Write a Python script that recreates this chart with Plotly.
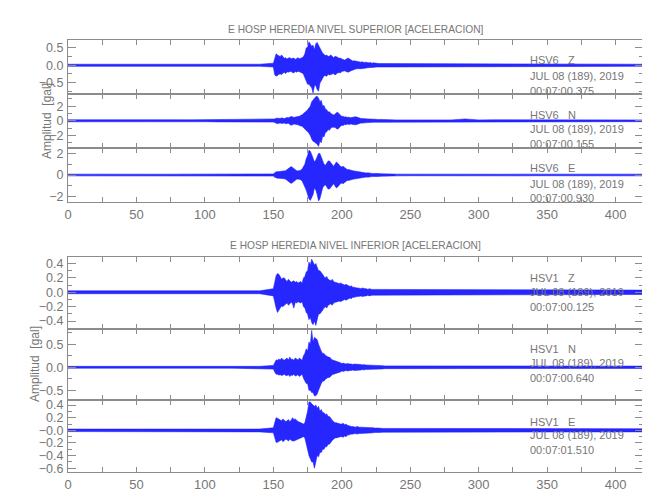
import plotly.graph_objects as go

# ---- time grid (seconds) ----
T_PRE = list(range(0, 150, 10))     # 15 samples (pre-event noise)
T_EVT = list(range(150, 240, 1))    # 90 samples (strong motion)
T_POST = list(range(240, 421, 10))  # 19 samples (coda / noise)
TIME = T_PRE + T_EVT + T_POST

# ===== HSV6 (nivel superior): upper / lower envelopes =====
z6_up = ([0.03,0.03,0.025,0.035,0.03,0.03,0.035,0.03,0.03,0.03,0.025,0.03,0.035,0.03,0.03] +
         [0.06,0.22,0.33,0.30,0.27,0.25,0.30,0.24,0.20,0.22,
          0.18,0.21,0.22,0.19,0.20,0.21,0.17,0.20,0.22,0.19,
          0.20,0.22,0.25,0.33,0.50,0.52,0.68,0.60,0.55,0.58,
          0.45,0.62,0.66,0.58,0.50,0.42,0.35,0.32,0.28,0.30,
          0.25,0.27,0.30,0.26,0.22,0.26,0.25,0.23,0.20,0.21,
          0.18,0.17,0.15,0.17,0.20,0.20,0.17,0.15,0.12,0.13,
          0.12,0.11,0.11,0.10,0.09,0.10,0.08,0.09,0.08,0.07,
          0.07,0.08,0.06,0.07,0.06,0.05,0.06,0.05,0.05,0.05,
          0.04,0.05,0.04,0.04,0.04,0.04,0.035,0.04,0.035,0.035] +
         [0.03,0.035,0.03,0.03,0.035,0.03,0.03,0.03,0.035,0.03,0.03,0.03,0.035,0.03,0.03,0.03,0.035,0.03,0.03])
z6_lo = ([-0.03,-0.03,-0.035,-0.03,-0.03,-0.025,-0.03,-0.03,-0.035,-0.03,-0.03,-0.03,-0.03,-0.035,-0.03] +
         [-0.05,-0.28,-0.31,-0.30,-0.26,-0.25,-0.27,-0.22,-0.21,-0.24,
          -0.19,-0.20,-0.18,-0.18,-0.21,-0.22,-0.18,-0.20,-0.17,-0.18,
          -0.21,-0.22,-0.26,-0.35,-0.42,-0.55,-0.55,-0.62,-0.65,-0.80,
          -0.60,-0.58,-0.70,-0.75,-0.52,-0.45,-0.38,-0.30,-0.30,-0.32,
          -0.26,-0.28,-0.27,-0.25,-0.24,-0.28,-0.24,-0.22,-0.21,-0.22,
          -0.18,-0.16,-0.16,-0.18,-0.19,-0.20,-0.17,-0.15,-0.13,-0.13,
          -0.11,-0.10,-0.11,-0.10,-0.10,-0.10,-0.09,-0.09,-0.08,-0.07,
          -0.07,-0.08,-0.07,-0.07,-0.06,-0.05,-0.06,-0.05,-0.05,-0.05,
          -0.045,-0.05,-0.04,-0.04,-0.04,-0.04,-0.04,-0.04,-0.035,-0.035] +
         [-0.03,-0.03,-0.035,-0.03,-0.03,-0.03,-0.035,-0.03,-0.03,-0.03,-0.035,-0.03,-0.03,-0.03,-0.035,-0.03,-0.03,-0.03,-0.03])

n6_up = ([0.14,0.15,0.13,0.14,0.15,0.13,0.14,0.15,0.14,0.13,0.15,0.14,0.13,0.15,0.14] +
         [0.20,0.25,0.35,0.38,0.35,0.30,0.40,0.35,0.30,0.38,
          0.45,0.40,0.55,0.58,0.55,0.45,0.50,0.52,0.55,0.62,
          0.75,0.80,1.00,1.10,1.30,1.50,1.80,2.00,2.60,2.80,
          3.00,3.30,3.35,3.10,2.60,2.80,2.00,2.10,1.60,1.50,
          1.20,1.25,1.00,0.90,0.80,0.90,1.10,1.15,1.00,0.80,
          0.60,0.62,0.50,0.55,0.45,0.50,0.40,0.45,0.50,0.55,
          0.55,0.50,0.40,0.35,0.30,0.32,0.28,0.25,0.28,0.25,
          0.25,0.22,0.22,0.20,0.20,0.20,0.18,0.20,0.18,0.16,
          0.18,0.16,0.15,0.15,0.15,0.13,0.14,0.12,0.13,0.12] +
         [0.12,0.12,0.13,0.12,0.12,0.25,0.12,0.13,0.12,0.12,0.12,0.13,0.12,0.12,0.12,0.13,0.12,0.12,0.12])
n6_lo = ([-0.14,-0.13,-0.15,-0.14,-0.13,-0.15,-0.14,-0.13,-0.15,-0.14,-0.13,-0.15,-0.14,-0.13,-0.15] +
         [-0.18,-0.25,-0.32,-0.40,-0.35,-0.30,-0.38,-0.35,-0.32,-0.40,
          -0.42,-0.35,-0.52,-0.60,-0.55,-0.45,-0.48,-0.50,-0.55,-0.65,
          -0.70,-0.75,-0.95,-1.10,-1.25,-1.50,-1.70,-2.00,-2.50,-2.80,
          -2.90,-3.00,-3.20,-3.50,-2.80,-3.00,-2.10,-2.20,-1.60,-1.50,
          -1.20,-1.30,-1.00,-0.90,-0.85,-0.90,-1.05,-1.15,-0.95,-0.80,
          -0.60,-0.65,-0.52,-0.55,-0.45,-0.50,-0.42,-0.45,-0.50,-0.55,
          -0.55,-0.50,-0.42,-0.35,-0.30,-0.32,-0.28,-0.25,-0.28,-0.25,
          -0.24,-0.20,-0.22,-0.20,-0.20,-0.20,-0.18,-0.20,-0.18,-0.15,
          -0.17,-0.15,-0.15,-0.15,-0.14,-0.12,-0.14,-0.12,-0.13,-0.12] +
         [-0.12,-0.13,-0.12,-0.12,-0.12,-0.22,-0.12,-0.12,-0.13,-0.12,-0.12,-0.12,-0.13,-0.12,-0.12,-0.12,-0.13,-0.12,-0.12])

e6_up = ([0.08,0.07,0.08,0.08,0.07,0.08,0.08,0.07,0.08,0.08,0.07,0.08,0.08,0.07,0.08] +
         [0.10,0.20,0.30,0.30,0.32,0.30,0.30,0.32,0.35,0.40,
          0.50,0.60,0.75,0.78,0.70,0.60,0.45,0.40,0.38,0.40,
          0.45,0.55,0.80,1.00,1.50,1.80,2.30,2.20,1.90,1.60,
          1.20,1.40,1.80,2.00,2.00,1.60,1.20,1.00,0.90,1.10,
          1.30,1.30,1.10,0.90,0.80,1.00,1.20,1.10,0.90,0.80,
          0.75,0.80,0.70,0.60,0.50,0.50,0.45,0.40,0.40,0.38,
          0.35,0.32,0.35,0.30,0.28,0.25,0.22,0.20,0.18,0.20,
          0.16,0.15,0.15,0.14,0.15,0.13,0.12,0.14,0.12,0.11,
          0.12,0.10,0.11,0.10,0.10,0.09,0.10,0.09,0.09,0.08] +
         [0.08,0.08,0.07,0.08,0.08,0.07,0.08,0.08,0.07,0.08,0.08,0.07,0.08,0.08,0.07,0.08,0.08,0.07,0.08])
e6_lo = ([-0.08,-0.08,-0.07,-0.08,-0.08,-0.07,-0.08,-0.08,-0.07,-0.08,-0.08,-0.07,-0.08,-0.08,-0.07] +
         [-0.10,-0.20,-0.28,-0.30,-0.30,-0.30,-0.32,-0.32,-0.35,-0.40,
          -0.50,-0.60,-0.72,-0.78,-0.70,-0.60,-0.45,-0.40,-0.38,-0.40,
          -0.45,-0.55,-0.80,-1.00,-1.40,-1.80,-2.20,-2.35,-2.00,-1.80,
          -1.20,-1.40,-1.80,-2.40,-2.20,-1.60,-1.20,-1.00,-0.90,-1.10,
          -1.30,-1.30,-1.10,-0.90,-0.80,-1.00,-1.20,-1.10,-0.90,-0.80,
          -0.75,-0.80,-0.70,-0.60,-0.50,-0.50,-0.45,-0.40,-0.40,-0.38,
          -0.35,-0.32,-0.35,-0.30,-0.28,-0.25,-0.22,-0.20,-0.18,-0.20,
          -0.16,-0.15,-0.15,-0.14,-0.15,-0.13,-0.12,-0.14,-0.12,-0.11,
          -0.12,-0.10,-0.11,-0.10,-0.10,-0.09,-0.10,-0.09,-0.09,-0.08] +
         [-0.08,-0.07,-0.08,-0.08,-0.07,-0.08,-0.08,-0.07,-0.08,-0.08,-0.07,-0.08,-0.08,-0.07,-0.08,-0.08,-0.07,-0.08,-0.08])

# ===== HSV1 (nivel inferior) =====
z1_up = ([0.02,0.02,0.025,0.02,0.02,0.025,0.02,0.02,0.025,0.02,0.02,0.025,0.02,0.02,0.02] +
         [0.05,0.15,0.23,0.26,0.25,0.22,0.18,0.20,0.20,0.17,
          0.15,0.18,0.16,0.14,0.15,0.16,0.14,0.15,0.13,0.14,
          0.15,0.13,0.20,0.22,0.28,0.30,0.42,0.38,0.46,0.42,
          0.38,0.40,0.35,0.30,0.30,0.28,0.25,0.22,0.20,0.22,
          0.18,0.17,0.16,0.18,0.15,0.14,0.14,0.13,0.12,0.13,
          0.12,0.11,0.10,0.11,0.10,0.09,0.08,0.09,0.07,0.07,
          0.06,0.06,0.06,0.05,0.05,0.06,0.05,0.05,0.05,0.04,
          0.05,0.04,0.04,0.04,0.04,0.04,0.04,0.035,0.04,0.035,
          0.035,0.03,0.035,0.03,0.03,0.035,0.03,0.03,0.03,0.03] +
         [0.03,0.03,0.035,0.03,0.03,0.03,0.035,0.03,0.03,0.03,0.035,0.03,0.03,0.03,0.035,0.03,0.03,0.03,0.03])
z1_lo = ([-0.02,-0.025,-0.02,-0.02,-0.025,-0.02,-0.02,-0.025,-0.02,-0.02,-0.025,-0.02,-0.02,-0.025,-0.02] +
         [-0.05,-0.15,-0.22,-0.28,-0.24,-0.22,-0.19,-0.20,-0.18,-0.17,
          -0.15,-0.18,-0.16,-0.14,-0.16,-0.22,-0.14,-0.15,-0.13,-0.14,
          -0.15,-0.13,-0.20,-0.22,-0.28,-0.30,-0.38,-0.35,-0.42,-0.45,
          -0.40,-0.46,-0.35,-0.30,-0.30,-0.28,-0.25,-0.22,-0.20,-0.22,
          -0.18,-0.17,-0.16,-0.18,-0.15,-0.14,-0.14,-0.13,-0.12,-0.13,
          -0.12,-0.11,-0.10,-0.11,-0.10,-0.09,-0.08,-0.09,-0.07,-0.07,
          -0.06,-0.06,-0.06,-0.05,-0.05,-0.06,-0.05,-0.05,-0.05,-0.04,
          -0.05,-0.04,-0.04,-0.04,-0.04,-0.04,-0.04,-0.035,-0.04,-0.035,
          -0.035,-0.03,-0.035,-0.03,-0.03,-0.035,-0.03,-0.03,-0.03,-0.03] +
         [-0.03,-0.035,-0.03,-0.03,-0.03,-0.035,-0.03,-0.03,-0.03,-0.035,-0.03,-0.03,-0.03,-0.035,-0.03,-0.03,-0.03,-0.035,-0.03])

n1_up = ([0.02,0.02,0.025,0.02,0.02,0.02,0.025,0.02,0.02,0.02,0.025,0.02,0.02,0.02,0.02] +
         [0.04,0.10,0.16,0.15,0.18,0.16,0.20,0.17,0.15,0.18,
          0.20,0.16,0.22,0.17,0.18,0.15,0.20,0.18,0.16,0.20,
          0.18,0.15,0.25,0.30,0.40,0.35,0.55,0.50,0.80,0.55,
          0.65,0.62,0.60,0.50,0.40,0.35,0.30,0.30,0.26,0.24,
          0.22,0.22,0.18,0.16,0.15,0.14,0.14,0.12,0.12,0.10,
          0.08,0.09,0.08,0.07,0.08,0.07,0.07,0.07,0.06,0.07,
          0.07,0.06,0.06,0.06,0.06,0.05,0.06,0.05,0.05,0.05,
          0.04,0.05,0.04,0.04,0.04,0.04,0.04,0.035,0.035,0.04,
          0.035,0.03,0.035,0.03,0.03,0.03,0.03,0.03,0.03,0.025] +
         [0.025,0.025,0.02,0.025,0.025,0.02,0.025,0.025,0.02,0.025,0.025,0.02,0.025,0.025,0.02,0.025,0.025,0.02,0.025])
n1_lo = ([-0.02,-0.025,-0.02,-0.02,-0.02,-0.025,-0.02,-0.02,-0.02,-0.025,-0.02,-0.02,-0.02,-0.025,-0.02] +
         [-0.04,-0.10,-0.15,-0.15,-0.17,-0.16,-0.18,-0.17,-0.15,-0.18,
          -0.18,-0.16,-0.20,-0.17,-0.18,-0.15,-0.19,-0.18,-0.16,-0.20,
          -0.18,-0.15,-0.24,-0.30,-0.35,-0.35,-0.50,-0.50,-0.55,-0.55,
          -0.62,-0.62,-0.58,-0.50,-0.40,-0.35,-0.30,-0.30,-0.26,-0.24,
          -0.22,-0.22,-0.18,-0.16,-0.15,-0.14,-0.14,-0.12,-0.12,-0.10,
          -0.08,-0.09,-0.08,-0.07,-0.08,-0.07,-0.07,-0.07,-0.06,-0.07,
          -0.07,-0.06,-0.06,-0.06,-0.06,-0.05,-0.06,-0.05,-0.05,-0.05,
          -0.04,-0.05,-0.04,-0.04,-0.04,-0.04,-0.04,-0.035,-0.035,-0.04,
          -0.035,-0.03,-0.035,-0.03,-0.03,-0.03,-0.03,-0.03,-0.03,-0.025] +
         [-0.025,-0.02,-0.025,-0.025,-0.02,-0.025,-0.025,-0.02,-0.025,-0.025,-0.02,-0.025,-0.025,-0.02,-0.025,-0.025,-0.02,-0.025,-0.025])

e1_up = ([0.02,0.025,0.02,0.02,0.025,0.02,0.02,0.025,0.02,0.02,0.025,0.02,0.02,0.025,0.02] +
         [0.04,0.12,0.20,0.19,0.18,0.17,0.15,0.18,0.16,0.14,
          0.15,0.17,0.14,0.16,0.20,0.17,0.18,0.15,0.14,0.13,
          0.12,0.10,0.10,0.12,0.20,0.30,0.45,0.45,0.42,0.40,
          0.38,0.40,0.35,0.38,0.30,0.33,0.28,0.28,0.25,0.26,
          0.22,0.22,0.18,0.16,0.14,0.12,0.12,0.11,0.11,0.10,
          0.10,0.11,0.09,0.10,0.08,0.07,0.06,0.06,0.06,0.05,
          0.05,0.06,0.05,0.05,0.05,0.05,0.05,0.04,0.05,0.04,
          0.04,0.04,0.04,0.04,0.035,0.04,0.035,0.035,0.03,0.035,
          0.03,0.03,0.03,0.03,0.03,0.03,0.03,0.03,0.03,0.03] +
         [0.025,0.025,0.03,0.025,0.025,0.03,0.025,0.025,0.03,0.025,0.025,0.03,0.025,0.025,0.03,0.025,0.025,0.03,0.025])
e1_lo = ([-0.02,-0.02,-0.025,-0.02,-0.02,-0.025,-0.02,-0.02,-0.025,-0.02,-0.02,-0.025,-0.02,-0.02,-0.025] +
         [-0.04,-0.12,-0.19,-0.19,-0.18,-0.17,-0.15,-0.18,-0.16,-0.14,
          -0.15,-0.17,-0.14,-0.16,-0.17,-0.17,-0.16,-0.15,-0.14,-0.13,
          -0.12,-0.10,-0.10,-0.12,-0.22,-0.30,-0.40,-0.45,-0.50,-0.50,
          -0.60,-0.50,-0.40,-0.42,-0.35,-0.35,-0.30,-0.30,-0.26,-0.26,
          -0.22,-0.22,-0.18,-0.16,-0.14,-0.12,-0.12,-0.11,-0.11,-0.10,
          -0.10,-0.11,-0.09,-0.10,-0.08,-0.07,-0.06,-0.06,-0.06,-0.05,
          -0.05,-0.06,-0.05,-0.05,-0.05,-0.05,-0.05,-0.04,-0.05,-0.04,
          -0.04,-0.04,-0.04,-0.04,-0.035,-0.04,-0.035,-0.035,-0.03,-0.035,
          -0.03,-0.03,-0.03,-0.03,-0.03,-0.03,-0.03,-0.03,-0.03,-0.03] +
         [-0.025,-0.03,-0.025,-0.025,-0.03,-0.025,-0.025,-0.03,-0.025,-0.025,-0.03,-0.025,-0.025,-0.03,-0.025,-0.025,-0.03,-0.025,-0.025])

# ---- labels ----
TITLE_TOP = "E HOSP HEREDIA NIVEL SUPERIOR [ACELERACION]"
TITLE_BOT = "E HOSP HEREDIA NIVEL INFERIOR [ACELERACION]"
YTITLE = "Amplitud  [gal]"
STATIONS = ["HSV6   Z", "HSV6   N", "HSV6   E", "HSV1   Z", "HSV1   N", "HSV1   E"]
DATE = "JUL 08 (189), 2019"
START_TIMES = ["00:07:00.375", "00:07:00.155", "00:07:00.930",
               "00:07:00.125", "00:07:00.640", "00:07:01.510"]
X_TICKS = list(range(0, 425, 25))

UPPER = [z6_up, n6_up, e6_up, z1_up, n1_up, e1_up]
LOWER = [z6_lo, n6_lo, e6_lo, z1_lo, n1_lo, e1_lo]

Y_RANGES = [[-0.83, 0.73], [-3.72, 3.66], [-2.5, 2.5],
            [-0.51, 0.49], [-0.71, 0.83], [-0.66, 0.48]]
Y_TICKVALS = [[-0.5, 0, 0.5], [-2, 0, 2], [-2, 0, 2],
              [-0.4, -0.2, 0, 0.2, 0.4], [-0.5, 0, 0.5], [-0.6, -0.4, -0.2, 0, 0.2, 0.4]]
Y_TICKTEXT = [["\u22120.5", "0.0", "0.5"], ["\u22122", "0", "2"], ["\u22122", "0", "2"],
              ["\u22120.4", "\u22120.2", "0.0", "0.2", "0.4"], ["\u22120.5", "0.0", "0.5"],
              ["\u22120.6", "\u22120.4", "\u22120.2", "\u22120.0", "0.2", "0.4"]]
Y_MINOR = [0.25, 1, 1, 0.1, 0.25, 0.1]

# ---- layout geometry (pixel positions in the 650x500 window; page body has an 8px margin) ----
OFF = 8
W, H = 650 - OFF, 500 - OFF
def fx(p):
    return (p - OFF) / W
def fy(p):
    return 1 - (p - OFF) / H

X0, X1 = 68, 643
PANELS_PX = [(40, 94), (94, 148), (148, 202), (257, 329), (329, 400), (400, 472)]
LABEL_Y = [(60, 76, 91), (115, 129, 144), (168, 183.5, 197.5),
           (278, 292, 307), (349, 363, 378), (421.5, 435, 450)]

GRAY = "#767676"
AXGRAY = "#8c8c8c"
FONT = "Liberation Sans, Arial, sans-serif"

fig = go.Figure()
layout = dict(width=W, height=H, margin=dict(l=0, r=0, t=0, b=0, pad=0), autosize=False,
              paper_bgcolor="white", plot_bgcolor="white", showlegend=False,
              font=dict(family=FONT, size=12, color=GRAY))

annotations = []
for i in range(6):
    k = "" if i == 0 else str(i + 1)
    fig.add_trace(go.Scatter(x=TIME, y=UPPER[i], mode="lines",
                             line=dict(color="rgba(30,30,255,0.55)", width=1),
                             xaxis="x" + k, yaxis="y" + k, hoverinfo="skip"))
    fig.add_trace(go.Scatter(x=TIME, y=LOWER[i], mode="lines", fill="tonexty",
                             fillcolor="rgba(0,0,255,0.85)",
                             line=dict(color="rgba(30,30,255,0.55)", width=1),
                             xaxis="x" + k, yaxis="y" + k, hoverinfo="skip"))
    top, bot = PANELS_PX[i]
    show_x = i in (2, 5)
    layout["xaxis" + k] = dict(
        domain=[fx(X0), fx(X1)], range=[0, 420], anchor="y" + k, automargin=False,
        showline=True, linecolor=AXGRAY, linewidth=1, mirror="ticks",
        ticks="inside", ticklen=5, tickcolor=AXGRAY, tickwidth=1,
        tickvals=X_TICKS,
        ticktext=[str(v) if v % 50 == 0 else "" for v in X_TICKS],
        showticklabels=show_x, showgrid=False, zeroline=False,
        tickfont=dict(family=FONT, size=13, color=GRAY))
    layout["yaxis" + k] = dict(
        domain=[fy(bot), fy(top)], range=Y_RANGES[i], anchor="x" + k, automargin=False,
        showline=True, linecolor=AXGRAY, linewidth=1, mirror="ticks",
        ticks="inside", ticklen=8, tickcolor=AXGRAY, tickwidth=1,
        tickvals=Y_TICKVALS[i], ticktext=Y_TICKTEXT[i],
        minor=dict(ticks="inside", ticklen=4, dtick=Y_MINOR[i], tickcolor=AXGRAY),
        showgrid=False, zeroline=False, ticklabelstandoff=1,
        tickfont=dict(family=FONT, size=12.5, color=GRAY))
    for txt, yy in zip([STATIONS[i].replace(" ", "\u00a0"), DATE, START_TIMES[i]], LABEL_Y[i]):
        annotations.append(dict(text=txt, x=fx(528), y=fy(yy), xref="paper", yref="paper",
                                xanchor="left", yanchor="middle", showarrow=False,
                                font=dict(family=FONT, size=11, color=GRAY)))

for txt, yy in [(TITLE_TOP, 29), (TITLE_BOT, 245)]:
    annotations.append(dict(text=txt, x=fx(356), y=fy(yy), xref="paper", yref="paper",
                            xanchor="center", yanchor="middle", showarrow=False,
                            font=dict(family=FONT, size=10.2, color=GRAY)))
for xx, yy in [(47, 121), (35, 364)]:
    annotations.append(dict(text=YTITLE.replace(" ", "\u00a0"), x=fx(xx), y=fy(yy),
                            xref="paper", yref="paper", textangle=-90,
                            xanchor="center", yanchor="middle", showarrow=False,
                            font=dict(family=FONT, size=12, color=GRAY)))
layout["annotations"] = annotations
fig.update_layout(**layout)
fig.write_html("out.html")
